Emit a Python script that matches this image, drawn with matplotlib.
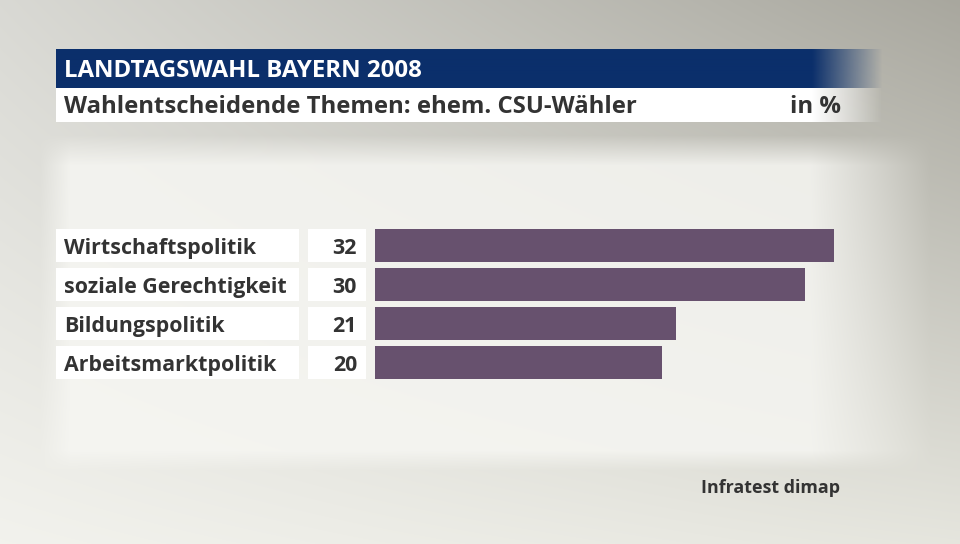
import matplotlib
matplotlib.use("Agg")
import matplotlib.pyplot as plt
import numpy as np

categories = ["Wirtschaftspolitik", "soziale Gerechtigkeit", "Bildungspolitik", "Arbeitsmarktpolitik"]
values = [32, 30, 21, 20]
title = "LANDTAGSWAHL BAYERN 2008"
subtitle = "Wahlentscheidende Themen: ehem. CSU-Wähler"
unit = "in %"
source = "Infratest dimap"

W, H = 960, 544
BAR_COLOR = "#67516e"
NAVY = "#0b2f6b"
TEXT = "#333333"
FONT = "Open Sans"

fig = plt.figure(figsize=(W / 100, H / 100), dpi=100)

# background gradient
bg = fig.add_axes([0, 0, 1, 1])
yy, xx = np.mgrid[0:H, 0:W]
u, v = xx / W, yy / H
tl, tr = np.array([0.85, 0.85, 0.83]), np.array([0.66, 0.655, 0.62])
bl, br = np.array([0.95, 0.95, 0.93]), np.array([0.90, 0.90, 0.87])
img = ((1 - u)[..., None] * ((1 - v)[..., None] * tl + v[..., None] * bl)
       + u[..., None] * ((1 - v)[..., None] * tr + v[..., None] * br))
# lighter panel behind the bars
px = np.clip((xx - 40) / 30, 0, 1) * np.clip((930 - xx) / 120, 0, 1)
py = np.clip((yy - 135) / 30, 0, 1) * np.clip((470 - yy) / 20, 0, 1)
panel = (px * py)[..., None]
light = np.array([0.965, 0.965, 0.95])
img = img * (1 - 0.85 * panel) + light * 0.85 * panel
bg.imshow(img, extent=[0, W, H, 0], aspect="auto")
bg.set_xlim(0, W)
bg.set_ylim(H, 0)
bg.axis("off")


def faded_band(ax, x0, x1, y0, y1, color, fade_start):
    rgb = np.array(matplotlib.colors.to_rgb(color))
    n = int(x1 - x0)
    xs = np.arange(n) + x0
    alpha = np.clip((x1 - xs) / (x1 - fade_start), 0, 1)
    arr = np.zeros((1, n, 4))
    arr[0, :, :3] = rgb
    arr[0, :, 3] = alpha
    ax.imshow(arr, extent=[x0, x1, y1, y0], aspect="auto", interpolation="bilinear")


faded_band(bg, 56, 882, 49, 88, NAVY, 812)
faded_band(bg, 56, 882, 88, 122, "white", 812)
bg.set_xlim(0, W)
bg.set_ylim(H, 0)

bg.text(64, 77, title, color="white", fontsize=17.3, fontweight="bold",
        family=FONT, va="baseline", ha="left")
bg.text(64, 113, subtitle, color=TEXT, fontsize=17.2, fontweight="bold",
        family=FONT, va="baseline", ha="left")
bg.text(841, 113, unit, color=TEXT, fontsize=17.2, fontweight="bold",
        family=FONT, va="baseline", ha="right")
bg.text(840, 493, source, color=TEXT, fontsize=12.9, fontweight="bold",
        family=FONT, va="baseline", ha="right")

# rows
row_top, pitch, row_h = 229, 39, 33
n = len(categories)
for i, (cat, val) in enumerate(zip(categories, values)):
    y0 = row_top + i * pitch
    bg.add_patch(plt.Rectangle((56, y0), 243, row_h, color="white", lw=0))
    bg.add_patch(plt.Rectangle((308, y0), 58, row_h, color="white", lw=0))
    bg.text(64, y0 + 25, cat, color=TEXT, fontsize=15.4, fontweight="bold",
            family=FONT, va="baseline", ha="left")
    bg.text(357, y0 + 25, str(val), color=TEXT, fontsize=15.4, fontweight="bold",
            family=FONT, va="baseline", ha="right")

# bar axes: 14.33 px per percentage point
px_per_unit = 14.33
xmax = 35
ax_left = 375
ax_top = row_top - (pitch - row_h) / 2
ax_h = pitch * n
ax = fig.add_axes([ax_left / W, 1 - (ax_top + ax_h) / H, px_per_unit * xmax / W, ax_h / H])
ax.barh(np.arange(n), values, height=row_h / pitch, color=BAR_COLOR, left=0)
ax.set_xlim(0, xmax)
ax.set_ylim(n - 0.5, -0.5)
ax.axis("off")
ax.patch.set_alpha(0)

fig.savefig("out.png", dpi=100)
